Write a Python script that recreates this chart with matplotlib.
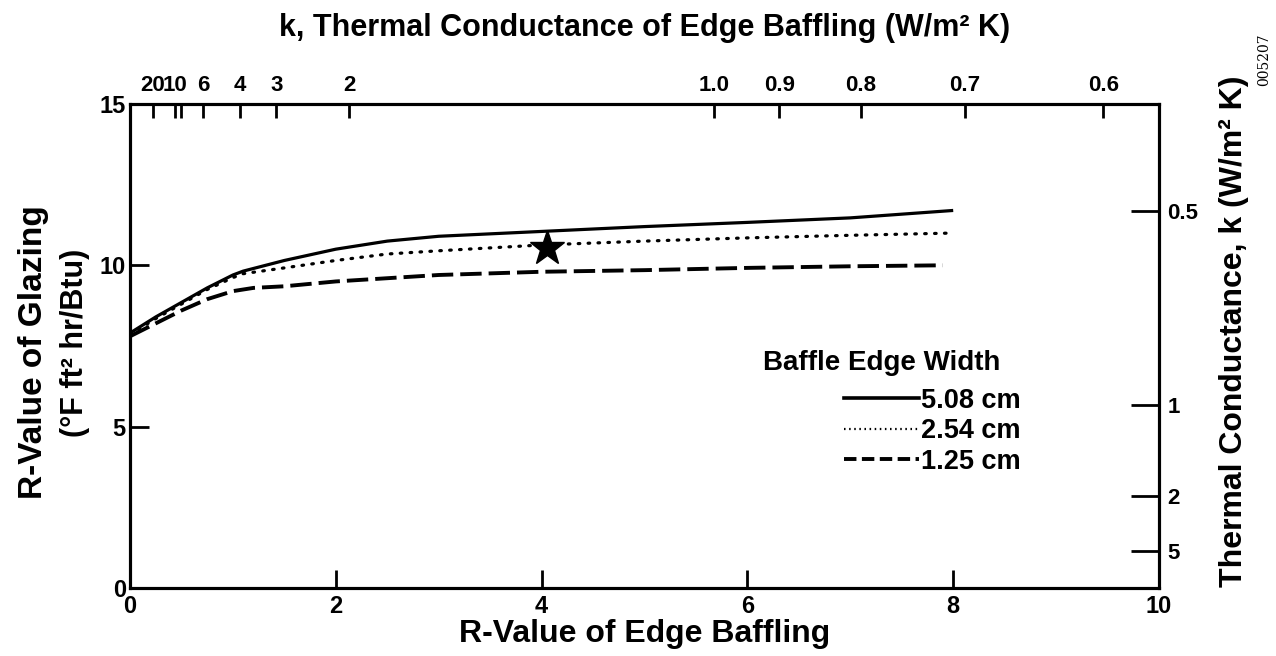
import matplotlib
matplotlib.use("Agg")
import matplotlib.pyplot as plt
from matplotlib.lines import Line2D

plt.rcParams['font.family'] = ['Liberation Sans', 'DejaVu Sans']
plt.rcParams['font.weight'] = 'bold'

# R-value of edge baffling (bottom axis) and R-value of glazing (left axis)
r_edge = [0, 0.25, 0.5, 0.75, 1.0, 1.1, 1.5, 2, 2.5, 3, 4, 5, 6, 7, 8]
glz_508 = [7.9, 8.4, 8.85, 9.3, 9.7, 9.82, 10.15, 10.5, 10.75, 10.9, 11.05, 11.2, 11.33, 11.47, 11.7]
glz_254 = [7.85, 8.35, 8.8, 9.25, 9.62, 9.74, 9.92, 10.15, 10.35, 10.45, 10.63, 10.75, 10.85, 10.93, 11.0]
r_edge_125 = [0, 0.25, 0.5, 0.75, 1.0, 1.2, 1.5, 2, 2.5, 3, 4, 5, 6, 7, 7.9]
glz_125 = [7.8, 8.2, 8.6, 8.95, 9.2, 9.3, 9.35, 9.5, 9.6, 9.7, 9.8, 9.85, 9.92, 9.97, 10.0]

star_x = [4.05]
star_y = [10.55]

# top axis: k of edge baffling, placed as drawn on the original
top_pos = [0.22, 0.44, 0.50, 0.71, 1.07, 1.42, 2.13, 5.68, 6.31, 7.10, 8.11, 9.46]
top_lab = ['20', '10', '', '6', '4', '3', '2', '1.0', '0.9', '0.8', '0.7', '0.6']

# right axis: k of glazing
right_pos = [11.67, 5.68, 2.84, 1.14]
right_lab = ['0.5', '1', '2', '5']

legend_labels = ['5.08 cm', '2.54 cm', '1.25 cm']

fig = plt.figure(figsize=(12.76, 6.56), dpi=100)
ax = fig.add_axes([0.1019, 0.1037, 0.8064, 0.7378])

ax.plot(r_edge, glz_508, color='black', lw=2.3, solid_capstyle='butt')
ax.plot(r_edge, glz_254, color='black', lw=2.3, linestyle=(0, (0.5, 2.6)), dash_capstyle='round')
ax.plot(r_edge_125, glz_125, color='black', lw=2.8, linestyle=(0, (5.5, 1.8)))
ax.plot(star_x, star_y, marker='*', color='black', markersize=26, linestyle='none')

ax.set_xlim(0, 10)
ax.set_ylim(0, 15)
for s in ax.spines.values():
    s.set_linewidth(2.2)

ax.set_xticks([0, 2, 4, 6, 8, 10])
ax.set_yticks([0, 5, 10, 15])
ax.tick_params(axis='x', direction='in', length=13, width=2, labelsize=17, pad=5)
ax.tick_params(axis='y', direction='in', length=14, width=2, labelsize=17, pad=3)

top = ax.twiny()
top.set_xlim(0, 10)
top.set_xticks(top_pos)
top.set_xticklabels(top_lab)
top.tick_params(axis='x', direction='in', length=10, width=2, labelsize=16, pad=6)

right = ax.twinx()
right.set_ylim(0, 15)
right.set_yticks(right_pos)
right.set_yticklabels(right_lab)
right.tick_params(axis='y', direction='in', length=20, width=2, labelsize=16, pad=6)

for a in (top, right):
    for s in a.spines.values():
        s.set_linewidth(2.2)

# axis titles
fig.text(0.505, 0.957, 'k, Thermal Conductance of Edge Baffling (W/m² K)', fontsize=22,
         fontweight='bold', ha='center', va='center')
fig.text(0.505, 0.022, 'R-Value of Edge Baffling', fontsize=23, fontweight='bold',
         ha='center', va='baseline')
fig.text(0.026, 0.463, 'R-Value of Glazing', fontsize=24, fontweight='bold', rotation=90,
         ha='center', va='center')
fig.text(0.059, 0.477, '(°F ft² hr/Btu)', fontsize=22, fontweight='bold', rotation=90,
         ha='center', va='center')
fig.text(0.967, 0.495, 'Thermal Conductance, k (W/m² K)', fontsize=23, fontweight='bold',
         rotation=90, ha='center', va='center')

# legend
handles = [
    Line2D([], [], color='black', lw=2.6),
    Line2D([], [], color='black', lw=1.6, linestyle=(0, (0.7, 1.6))),
    Line2D([], [], color='black', lw=2.8, linestyle=(0, (3.2, 1.4))),
]
ax.legend(handles, legend_labels, loc='upper right', bbox_to_anchor=(0.866, 0.414),
          frameon=False, fontsize=19.5, handlelength=2.75, handletextpad=0.1,
          labelspacing=0.17, borderpad=0, borderaxespad=0)
ax.text(0.846, 0.465, 'Baffle Edge Width', transform=ax.transAxes, fontsize=20,
        fontweight='bold', ha='right', va='center')

fig.text(0.991, 0.909, '005207', rotation=90, fontsize=10, family='DejaVu Serif',
         fontweight='normal', ha='center', va='center')

fig.savefig('out.png', dpi=100)
